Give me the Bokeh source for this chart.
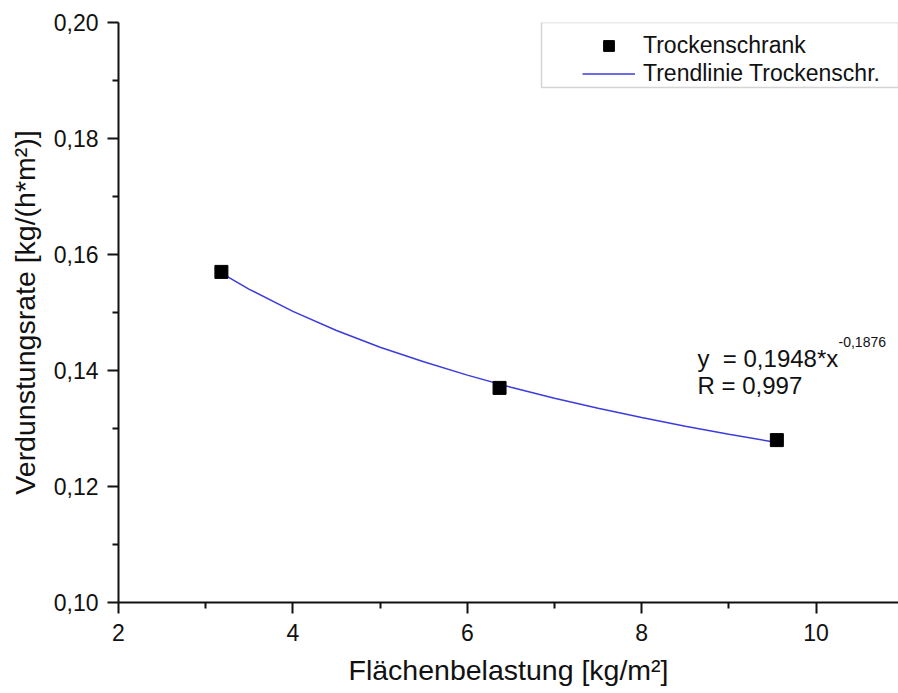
from bokeh.plotting import figure
from bokeh.models import (Legend, LegendItem, Label, BoxAnnotation, FixedTicker, Range1d)
from bokeh.embed import file_html
from bokeh.resources import INLINE

# Measured points (Trockenschrank)
x_pts = [3.18, 6.37, 9.55]
y_pts = [0.157, 0.137, 0.128]

# Trend line
x_trend = [3.18, 3.5, 4.0, 4.5, 5.0, 5.5, 6.0, 6.5, 7.0, 7.5, 8.0, 8.5, 9.0, 9.55]
y_trend = [0.1568, 0.1540, 0.1502, 0.1469, 0.1440, 0.1415, 0.1392, 0.1371, 0.1352,
           0.1335, 0.1319, 0.1304, 0.1290, 0.1276]

x_ticks = [2, 4, 6, 8, 10]
x_minor = [3, 5, 7, 9, 11]
y_ticks = [0.10, 0.12, 0.14, 0.16, 0.18, 0.20]
y_tick_labels = ["0,10", "0,12", "0,14", "0,16", "0,18", "0,20"]
y_minor = [0.11, 0.13, 0.15, 0.17, 0.19]

legend_labels = ["Trockenschrank", "Trendlinie Trockenschr."]
eq_text = "y\u00a0 = 0,1948*x"
eq_exp = "-0,1876"
r_text = "R = 0,997"
x_title = "Flächenbelastung [kg/m²]"
y_title = "Verdunstungsrate [kg/(h*m²)]"

FONT = "Liberation Sans"

p = figure(width=898, height=693, output_backend="svg", toolbar_location=None,
           x_range=Range1d(2, 10.945), y_range=Range1d(0.10, 0.20),
           min_border_left=118, min_border_right=0, min_border_top=22, min_border_bottom=91)
p.outline_line_color = None
p.xgrid.visible = False
p.ygrid.visible = False
p.background_fill_color = "white"
p.border_fill_color = "white"

line_r = p.line(x_trend, y_trend, line_color="#3c3cdc", line_width=1.5)
pts_r = p.scatter(x_pts, y_pts, marker="square", size=13, fill_color="black", line_color="black")

for ax in (p.xaxis[0], p.yaxis[0]):
    ax.axis_line_width = 2
    ax.axis_line_color = "#111111"
    ax.major_tick_line_width = 2
    ax.minor_tick_line_width = 2
    ax.major_tick_line_color = "#111111"
    ax.minor_tick_line_color = "#111111"
    ax.major_tick_out = 11
    ax.major_tick_in = 0
    ax.minor_tick_out = 6
    ax.minor_tick_in = 0
    ax.major_label_text_font = FONT
    ax.major_label_text_font_size = "23px"
    ax.major_label_text_color = "#111111"
    ax.axis_label_text_font = FONT
    ax.axis_label_text_font_size = "28.5px"
    ax.axis_label_text_font_style = "normal"
    ax.axis_label_text_color = "#111111"

p.xaxis[0].ticker = FixedTicker(ticks=x_ticks, minor_ticks=x_minor)
p.yaxis[0].ticker = FixedTicker(ticks=y_ticks, minor_ticks=y_minor)
p.yaxis[0].major_label_overrides = {t: l for t, l in zip(y_ticks, y_tick_labels)}
p.xaxis[0].major_label_standoff = 10
p.yaxis[0].major_label_standoff = 9
p.xaxis[0].axis_label = x_title
p.yaxis[0].axis_label = y_title
p.xaxis[0].axis_label_standoff = 10
p.yaxis[0].axis_label_standoff = 10

# legend frame
box = BoxAnnotation(left=6.851, bottom=0.18879, fill_alpha=0, line_color="#707070",
                    line_width=1.5)
p.add_layout(box)

legend = Legend(items=[LegendItem(label=legend_labels[0], renderers=[pts_r]),
                       LegendItem(label=legend_labels[1], renderers=[line_r])],
                location=(464, 515), padding=0, margin=0, spacing=1,
                glyph_width=53, glyph_height=27, label_height=27, label_standoff=8,
                border_line_color=None, background_fill_alpha=0,
                label_text_font=FONT, label_text_font_size="23px", label_text_color="#111111")
p.add_layout(legend)

p.add_layout(Label(x=8.64, y=0.14207, text=eq_text, text_font=FONT, text_font_size="24px",
                   text_color="#111111", text_baseline="alphabetic"))
p.add_layout(Label(x=10.257, y=0.14500, text=eq_exp, text_font=FONT, text_font_size="14px",
                   text_color="#111111", text_baseline="alphabetic"))
p.add_layout(Label(x=8.64, y=0.13741, text=r_text, text_font=FONT, text_font_size="24px",
                   text_color="#111111", text_baseline="alphabetic"))

open("out.html", "w").write(file_html(p, INLINE))
